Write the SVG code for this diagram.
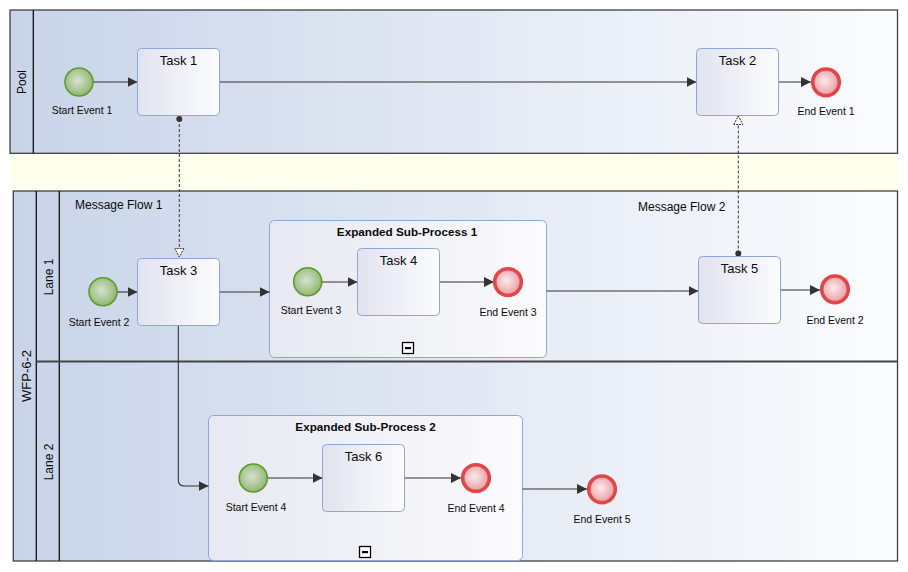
<svg xmlns="http://www.w3.org/2000/svg" width="908" height="572" viewBox="0 0 908 572">
  <defs>
    <linearGradient id="poolFill" x1="0" y1="0" x2="1" y2="0">
      <stop offset="0" stop-color="#c9d4e9"/>
      <stop offset="1" stop-color="#fbfcfe"/>
    </linearGradient>
    <linearGradient id="taskFill" x1="0" y1="0" x2="1" y2="0">
      <stop offset="0" stop-color="#e1e3ef"/>
      <stop offset="1" stop-color="#fcfcfe"/>
    </linearGradient>
    <linearGradient id="subFill" x1="0" y1="0" x2="1" y2="0">
      <stop offset="0" stop-color="#e7e8f1"/>
      <stop offset="1" stop-color="#fbfbfd"/>
    </linearGradient>
    <radialGradient id="startFill" cx="0.45" cy="0.45" r="0.6">
      <stop offset="0" stop-color="#d6e2cf"/>
      <stop offset="1" stop-color="#8cb46c"/>
    </radialGradient>
    <radialGradient id="endFill" cx="0.45" cy="0.45" r="0.6">
      <stop offset="0" stop-color="#fdeaec"/>
      <stop offset="1" stop-color="#e6959c"/>
    </radialGradient>
    <marker id="arrow" markerUnits="userSpaceOnUse" markerWidth="12" markerHeight="12" refX="10" refY="6" orient="auto">
      <path d="M0,1 L10,6 L0,11 z" fill="#333"/>
    </marker>
    <marker id="msgStart" markerUnits="userSpaceOnUse" markerWidth="8" markerHeight="8" refX="4" refY="4" orient="auto">
      <circle cx="4" cy="4" r="3" fill="#333"/>
    </marker>
    <marker id="msgEnd" markerUnits="userSpaceOnUse" markerWidth="11" markerHeight="11" refX="9.5" refY="5.5" orient="auto">
      <path d="M1,1 L9.5,5.5 L1,10 z" fill="#fff" stroke="#333" stroke-width="1" stroke-dasharray="2,1"/>
    </marker>
  </defs>
  <style>
    .pool { fill: url(#poolFill); stroke: #404040; stroke-width: 1.3; }
    .sep { stroke: #111; stroke-width: 1.3; fill: none; }
    .laneSep { stroke: #444; stroke-width: 2.2; }
    .task { fill: url(#taskFill); stroke: #8ea6d6; stroke-width: 1; }
    .sub { fill: url(#subFill); stroke: #8ea6d6; stroke-width: 1; }
    .start { fill: url(#startFill); stroke: #5e9a2c; stroke-width: 1.6; }
    .end { fill: url(#endFill); stroke: #e24646; stroke-width: 3.6; }
    .flow { fill: none; stroke: #333; stroke-width: 1.1; marker-end: url(#arrow); }
    .msg { fill: none; stroke: #333; stroke-width: 1; stroke-dasharray: 3,2; marker-start: url(#msgStart); marker-end: url(#msgEnd); }
    text { font-family: "Liberation Sans", Arial, sans-serif; fill: #0a0a0a; }
    .tname { font-size: 13px; text-anchor: middle; }
    .ename { font-size: 10.5px; text-anchor: middle; }
    .sname { font-size: 11.7px; font-weight: bold; text-anchor: middle; }
    .hname { font-size: 12px; text-anchor: middle; }
    .mname { font-size: 12px; }
  </style>

  <rect width="908" height="572" fill="#ffffff"/>
  <!-- gap between the two pools -->
  <rect x="10" y="153" width="887.5" height="38" fill="#ffffee"/>

  <!-- upper pool -->
  <g id="pool">
    <rect class="pool" x="10" y="10" width="887.5" height="143.3"/>
    <line class="sep" x1="33.3" y1="10" x2="33.3" y2="153.3"/>
    <text class="hname" transform="translate(26,82) rotate(-90)">Pool</text>
  </g>

  <!-- lower pool with its two lanes -->
  <g id="wfp-6-2">
    <rect class="pool" x="13.3" y="191" width="884.2" height="370"/>
    <line class="sep" x1="36.3" y1="191" x2="36.3" y2="561"/>
    <line class="sep" x1="59.3" y1="191" x2="59.3" y2="561"/>
    <line class="laneSep" x1="36.3" y1="361.5" x2="897.5" y2="361.5"/>
    <text class="hname" style="font-size:13px" transform="translate(31,376) rotate(-90)">WFP-6-2</text>
  </g>
  <g id="lane-1">
    <text class="hname" transform="translate(53,277) rotate(-90)">Lane 1</text>
  </g>
  <g id="lane-2">
    <text class="hname" transform="translate(53,462) rotate(-90)">Lane 2</text>
  </g>

  <!-- expanded sub-processes -->
  <g id="sub-process-1">
    <rect class="sub" x="269.5" y="220.5" width="277" height="137" rx="5"/>
    <text class="sname" x="407" y="236">Expanded Sub-Process 1</text>
    <rect x="402.5" y="342.5" width="11" height="11" fill="#fff" stroke="#000" stroke-width="1.3"/>
    <rect x="405" y="347" width="6" height="2.2" fill="#000"/>
  </g>
  <g id="sub-process-2">
    <rect class="sub" x="208.5" y="415.5" width="314" height="145" rx="5"/>
    <text class="sname" x="365.5" y="431">Expanded Sub-Process 2</text>
    <rect x="359.5" y="546.5" width="11" height="11" fill="#fff" stroke="#000" stroke-width="1.3"/>
    <rect x="362" y="551" width="6" height="2.2" fill="#000"/>
  </g>

  <!-- sequence and message flows -->
  <g id="connectors">
    <path class="flow" d="M93,82 H137.5"/>
    <path class="flow" d="M219.5,82 H696.5"/>
    <path class="flow" d="M778.5,82 H811"/>
    <path class="flow" d="M117,292 H137.5"/>
    <path class="flow" d="M219.5,292 H269.5"/>
    <path class="flow" d="M322,282 H357.5"/>
    <path class="flow" d="M439.5,282 H494"/>
    <path class="flow" d="M546.5,291 H698.5"/>
    <path class="flow" d="M780.5,290 H820"/>
    <path class="flow" d="M178.3,325.5 V480 Q178.3,486 184.3,486 H208.5"/>
    <path class="flow" d="M267.5,478 H322.5"/>
    <path class="flow" d="M404.5,478 H461"/>
    <path class="flow" d="M522.5,489 H587"/>
    <path class="msg" d="M179.3,119 V257"/>
    <path class="msg" d="M738.3,253.5 V116"/>
    <text class="mname" x="75" y="209">Message Flow 1</text>
    <text class="mname" x="638" y="211">Message Flow 2</text>
  </g>

  <!-- events -->
  <g id="start-event-1">
    <circle class="start" cx="79" cy="82" r="14"/>
    <text class="ename" x="82" y="114">Start Event 1</text>
  </g>
  <g id="end-event-1">
    <circle class="end" cx="826" cy="82.3" r="13.3"/>
    <text class="ename" x="826" y="115">End Event 1</text>
  </g>
  <g id="start-event-2">
    <circle class="start" cx="103" cy="291.7" r="14"/>
    <text class="ename" x="99" y="325.5">Start Event 2</text>
  </g>
  <g id="start-event-3">
    <circle class="start" cx="307.7" cy="281.7" r="14"/>
    <text class="ename" x="311" y="314">Start Event 3</text>
  </g>
  <g id="end-event-3">
    <circle class="end" cx="508" cy="282" r="13.3"/>
    <text class="ename" x="508" y="316">End Event 3</text>
  </g>
  <g id="end-event-2">
    <circle class="end" cx="835" cy="289.3" r="13.3"/>
    <text class="ename" x="835" y="323.5">End Event 2</text>
  </g>
  <g id="start-event-4">
    <circle class="start" cx="253.3" cy="478" r="14"/>
    <text class="ename" x="256" y="510.5">Start Event 4</text>
  </g>
  <g id="end-event-4">
    <circle class="end" cx="476" cy="478" r="13.3"/>
    <text class="ename" x="476" y="511.5">End Event 4</text>
  </g>
  <g id="end-event-5">
    <circle class="end" cx="602" cy="489.3" r="13.3"/>
    <text class="ename" x="602" y="522.5">End Event 5</text>
  </g>

  <!-- tasks -->
  <g id="task-1">
    <rect class="task" x="137.5" y="48.5" width="82" height="67" rx="4"/>
    <text class="tname" x="178.5" y="65">Task 1</text>
  </g>
  <g id="task-2">
    <rect class="task" x="696.5" y="48.5" width="82" height="67" rx="4"/>
    <text class="tname" x="737.5" y="65">Task 2</text>
  </g>
  <g id="task-3">
    <rect class="task" x="137.5" y="258.5" width="82" height="67" rx="4"/>
    <text class="tname" x="178.5" y="275">Task 3</text>
  </g>
  <g id="task-4">
    <rect class="task" x="357.5" y="248.5" width="82" height="67" rx="4"/>
    <text class="tname" x="398.5" y="265">Task 4</text>
  </g>
  <g id="task-5">
    <rect class="task" x="698.5" y="256.5" width="82" height="67" rx="4"/>
    <text class="tname" x="739.5" y="273">Task 5</text>
  </g>
  <g id="task-6">
    <rect class="task" x="322.5" y="444.5" width="82" height="67" rx="4"/>
    <text class="tname" x="363.5" y="461">Task 6</text>
  </g>
</svg>
